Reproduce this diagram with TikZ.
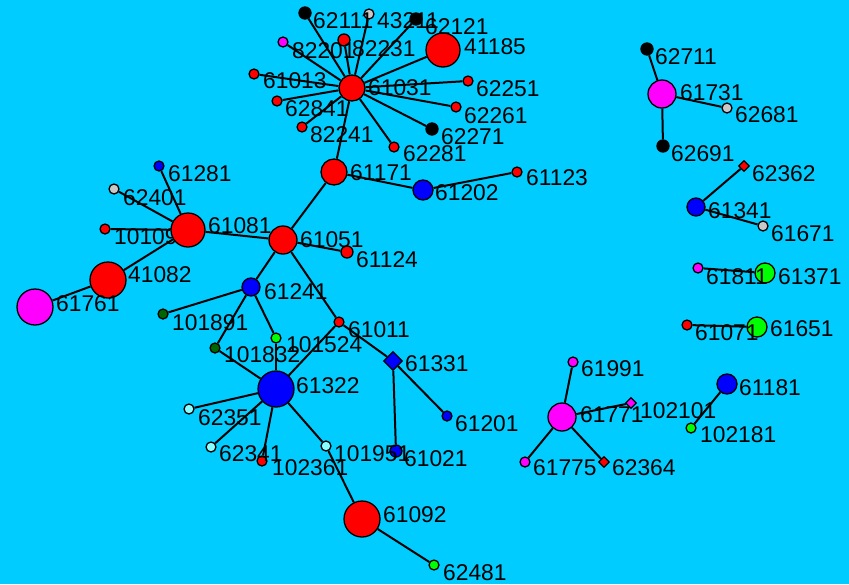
\documentclass[tikz,border=0pt]{standalone}
\usepackage{fontspec}
\setmainfont{Liberation Sans}
\usetikzlibrary{shapes.geometric}
\pgfdeclarelayer{background}
\pgfdeclarelayer{behind}
\pgfdeclarelayer{foreground}
\pgfsetlayers{background,behind,main,foreground}
\definecolor{sky}{HTML}{00CCFF}
\definecolor{nred}{HTML}{FF0000}
\definecolor{nblue}{HTML}{0000FF}
\definecolor{nmag}{HTML}{FF00FF}
\definecolor{ngray}{HTML}{C8C8C8}
\definecolor{ncyan}{HTML}{88FFFF}
\definecolor{ndkgreen}{HTML}{006600}
\definecolor{ngreen}{HTML}{00FF00}
\tikzset{
  vertex/.style={circle, draw=black, line width=1.3pt, inner sep=0pt},
  rhomb/.style={diamond, draw=black, line width=1.3pt, inner sep=0pt, aspect=1},
  lbl/.style={anchor=base west, inner sep=0pt, text=black,
    font=\fontsize{22.8}{24}\selectfont},
  edge/.style={draw=black, line width=2pt},
}
% #1 name, #2 x, #3 y, #4 radius, #5 fill, #6 text, #7 label x, #8 label centre y
\newcommand{\vtx}[8]{%
  \node[vertex, fill=#5, minimum size=2*#4] (#1) at (#2,#3) {};
  \begin{pgfonlayer}{foreground}
    \node[lbl] (#1-l) at (#7,#8+8.2) {#6};
  \end{pgfonlayer}}
% same, diamond shaped; #4 is the full width
\newcommand{\dia}[8]{%
  \node[rhomb, fill=#5, minimum size=#4] (#1) at (#2,#3) {};
  \begin{pgfonlayer}{foreground}
    \node[lbl] (#1-l) at (#7,#8+8.2) {#6};
  \end{pgfonlayer}}
\begin{document}
\begin{tikzpicture}[x=1pt,y=-1pt]
\begin{pgfonlayer}{background}
  \fill[sky] (0,0) rectangle (849,584);
\end{pgfonlayer}
\useasboundingbox (0,0) rectangle (849,584);

% label hidden under the hub 61081
\node[vertex, fill=nred, minimum size=10] (n101091) at (105,229) {};
\begin{pgfonlayer}{behind}
  \node[lbl] (n101091-l) at (114,236+8.2) {101091};
\end{pgfonlayer}

% upper star
\vtx{n61031}{352}{88}{13}{nred}{61031}{368}{87}
\vtx{n62111}{305}{13}{6}{black}{62111}{313}{20}
\vtx{n43211}{369}{14}{5}{ngray}{43211}{377}{20}
\vtx{n62121}{416}{19}{6}{black}{62121}{425}{26}
\vtx{n41185}{443}{50}{17}{nred}{41185}{464}{46}
\vtx{n82201}{283}{42}{5}{nmag}{82201}{292}{50}
\vtx{n82231}{344}{40}{6}{nred}{82231}{352}{48}
\vtx{n61013}{254}{74}{5}{nred}{61013}{263}{80}
\vtx{n62251}{468}{81}{5}{nred}{62251}{476}{88}
\vtx{n62841}{277}{101}{5}{nred}{62841}{285}{108}
\vtx{n62261}{456}{107}{5}{nred}{62261}{464}{115}
\vtx{n82241}{302}{127}{5}{nred}{82241}{310}{134}
\vtx{n62271}{432}{129}{6}{black}{62271}{441}{136}
\vtx{n62281}{394}{147}{5}{nred}{62281}{403}{153}

% central chain
\vtx{n61171}{334}{172}{13}{nred}{61171}{350}{172}
\vtx{n61202}{423}{190}{10}{nblue}{61202}{435}{192}
\vtx{n61123}{517}{172}{5}{nred}{61123}{526}{177}
\vtx{n61051}{283}{240}{14}{nred}{61051}{300}{239}
\vtx{n61124}{347}{252}{6}{nred}{61124}{356}{259}
\vtx{n61081}{188}{230}{17}{nred}{61081}{208}{225}
\vtx{n61281}{159}{166}{5}{nblue}{61281}{168}{173}
\vtx{n62401}{114}{189}{5}{ngray}{62401}{123}{197}
\vtx{n41082}{108}{280}{18}{nred}{41082}{128}{274}
\vtx{n61761}{35}{307}{18}{nmag}{61761}{56}{303}
\vtx{n61241}{251}{287}{9}{nblue}{61241}{264}{291}
\vtx{n101891}{163}{314}{5}{ndkgreen}{101891}{172}{322}
\vtx{n61011}{339}{322}{5}{nred}{61011}{348}{329}
\vtx{n101832}{215}{348}{5}{ndkgreen}{101832}{224}{354}
\vtx{n101524}{276}{338}{5}{ngreen}{101524}{286}{344}
\dia{n61331}{393}{361}{19}{nblue}{61331}{405}{363}
\vtx{n61322}{276}{389}{18}{nblue}{61322}{296}{385}
\vtx{n62351}{189}{409}{5}{ncyan}{62351}{198}{417}
\vtx{n62341}{211}{447}{5}{ncyan}{62341}{219}{453}
\vtx{n102361}{262}{461}{5}{nred}{102361}{272}{467}
\vtx{n101951}{326}{446}{5}{ncyan}{101951}{334}{453}
\vtx{n61021}{396}{451}{6}{nblue}{61021}{404}{458}
\vtx{n61201}{447}{416}{5}{nblue}{61201}{455}{423}
\vtx{n61092}{362}{519}{18}{nred}{61092}{383}{514}
\vtx{n62481}{434}{565}{5}{ngreen}{62481}{443}{572}

% right-hand groups
\vtx{n62711}{647}{49}{6}{black}{62711}{655}{56}
\vtx{n61731}{662}{94}{14}{nmag}{61731}{680}{92}
\vtx{n62681}{727}{108}{5}{ngray}{62681}{735}{114}
\vtx{n62691}{663}{146}{6}{black}{62691}{671}{153}
\dia{n62362}{744}{166}{11}{nred}{62362}{752}{173}
\vtx{n61341}{696}{207}{9}{nblue}{61341}{708}{210}
\vtx{n61671}{763}{226}{5}{ngray}{61671}{771}{233}
\vtx{n61811}{698}{268}{5}{nmag}{61811}{706}{276}
\vtx{n61371}{765}{273}{10}{ngreen}{61371}{778}{276}
\vtx{n61071}{687}{325}{5}{nred}{61071}{695}{332}
\vtx{n61651}{757}{327}{10}{ngreen}{61651}{770}{328}
\vtx{n61181}{727}{384}{10}{nblue}{61181}{739}{387}
\vtx{n102181}{691}{428}{5}{ngreen}{102181}{700}{434}
\vtx{n61991}{573}{362}{5}{nmag}{61991}{581}{368}
\vtx{n61771}{562}{417}{14}{nmag}{61771}{580}{414}
\dia{n102101}{631}{403}{11}{nmag}{102101}{640}{410}
\vtx{n61775}{525}{462}{5}{nmag}{61775}{533}{467}
\dia{n62364}{604}{462}{11}{nred}{62364}{612}{467}

\begin{pgfonlayer}{background}
  \foreach \t in {62111,43211,62121,41185,82201,82231,61013,62251,
                  62841,62261,82241,62271,62281,61171}
    \draw[edge] (n61031) -- (n\t);
  \draw[edge] (n61171) -- (n61202);
  \draw[edge] (n61202) -- (n61123);
  \draw[edge] (n61171) -- (n61051);
  \foreach \t in {61081,61124,61241,61011}
    \draw[edge] (n61051) -- (n\t);
  \foreach \t in {61281,62401,101091,41082}
    \draw[edge] (n61081) -- (n\t);
  \draw[edge] (n41082) -- (n61761);
  \foreach \t in {101891,101832,101524}
    \draw[edge] (n61241) -- (n\t);
  \draw[edge] (n101832) -- (n61322);
  \draw[edge] (n101524) -- (n61322);
  \draw[edge] (n61011) -- (n61322);
  \draw[edge] (n61011) -- (n61331);
  \draw[edge] (n61331) -- (n61201);
  \draw[edge] (n61331) -- (n61021);
  \foreach \t in {62351,62341,102361,101951}
    \draw[edge] (n61322) -- (n\t);
  \draw[edge] (n101951) -- (n61092);
  \draw[edge] (n61092) -- (n62481);
  \foreach \t in {62711,62681,62691}
    \draw[edge] (n61731) -- (n\t);
  \draw[edge] (n61341) -- (n62362);
  \draw[edge] (n61341) -- (n61671);
  \draw[edge] (n61811) -- (n61371);
  \draw[edge] (n61071) -- (n61651);
  \draw[edge] (n61181) -- (n102181);
  \foreach \t in {61991,102101,61775,62364}
    \draw[edge] (n61771) -- (n\t);
\end{pgfonlayer}
\end{tikzpicture}
\end{document}
